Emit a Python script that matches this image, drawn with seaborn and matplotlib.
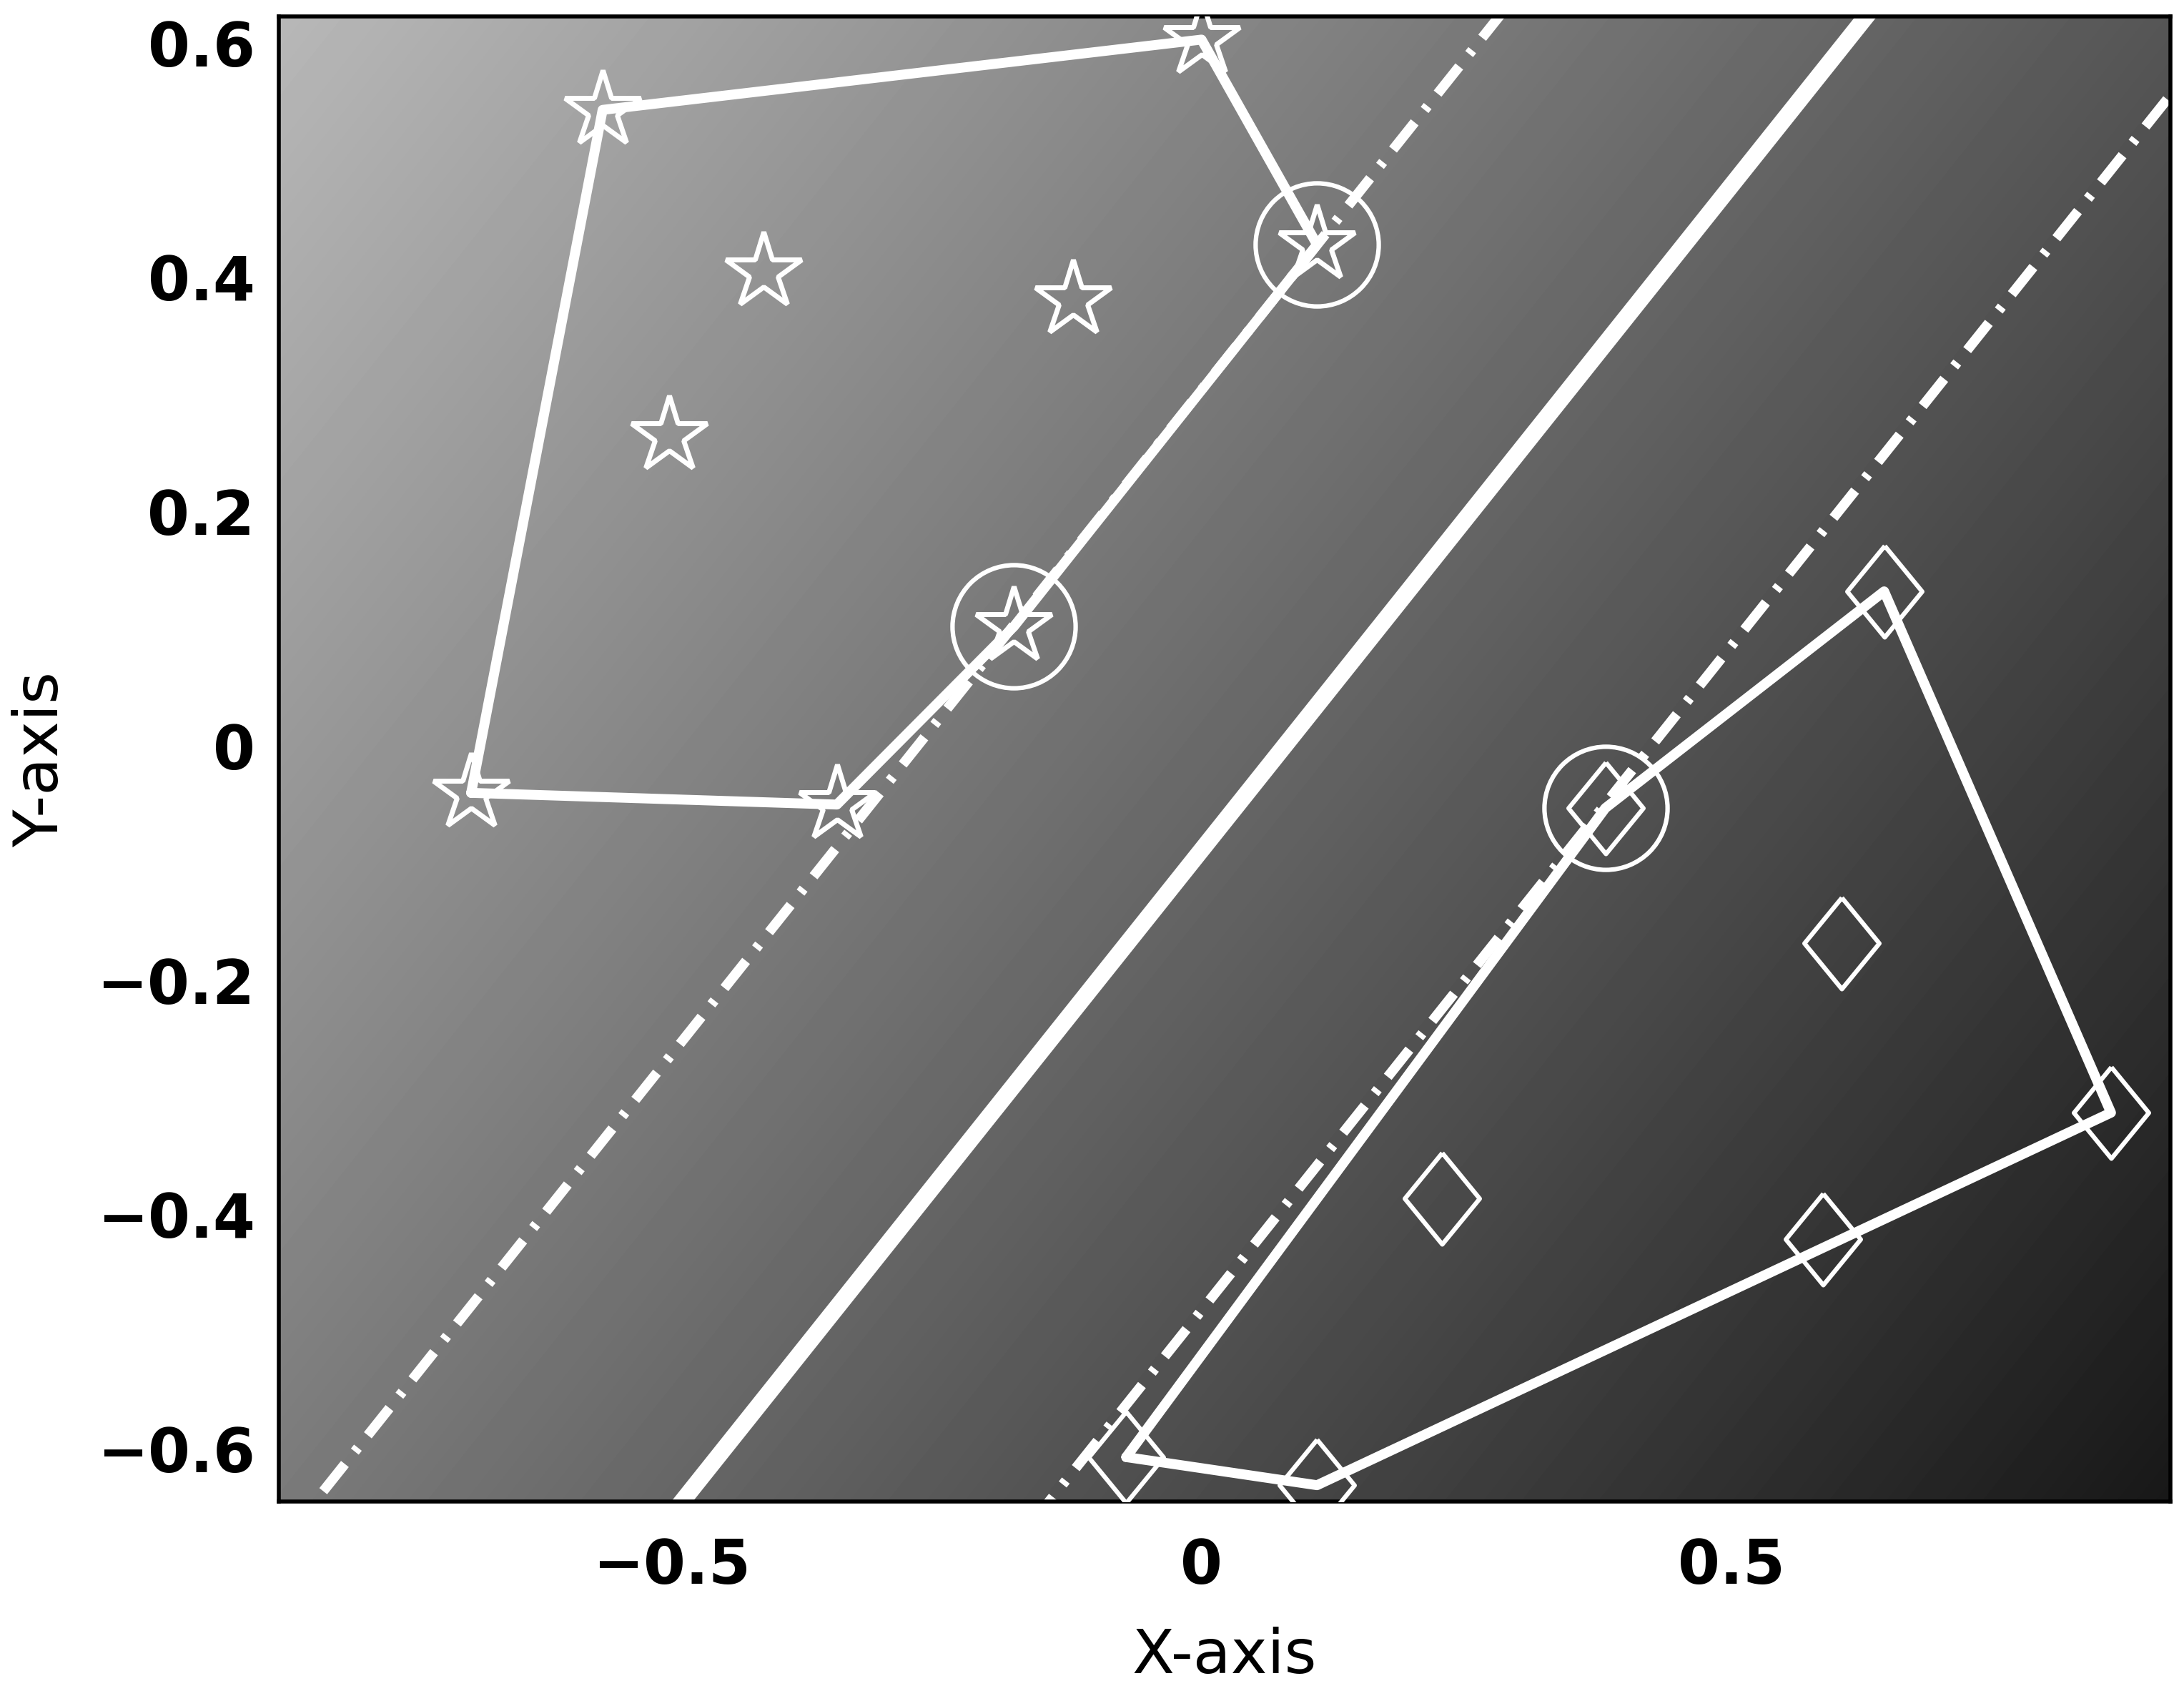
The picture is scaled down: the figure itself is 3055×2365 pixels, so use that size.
import numpy as np
import matplotlib
matplotlib.use("Agg")
import matplotlib.pyplot as plt
from matplotlib.ticker import FuncFormatter
import seaborn as sns

# class A (stars) and class B (diamonds)
star_x = [-0.565, 0.0, 0.109, -0.413, -0.121, -0.502, -0.177, -0.689, -0.344]
star_y = [0.543, 0.603, 0.428, 0.405, 0.381, 0.265, 0.102, -0.040, -0.050]
diamond_x = [0.644, 0.604, 0.381, 0.858, 0.227, 0.586, -0.071, 0.109]
diamond_y = [0.132, -0.168, -0.053, -0.313, -0.386, -0.421, -0.607, -0.631]

# support vectors (circled)
support_x = [0.109, -0.177, 0.381]
support_y = [0.428, 0.102, -0.053]

# linear decision function  w . x + b
weights = [-2.888, 2.545]
bias = 0.226
margin_levels = [-1, 0, 1]

x_ticks = [-0.5, 0, 0.5]
y_ticks = [-0.6, -0.4, -0.2, 0, 0.2, 0.4, 0.6]
x_limits = (-0.8706, 0.9139)
y_limits = (-0.645, 0.6225)


def convexHull(xs, ys):
    pts = sorted(zip(xs, ys))

    def cross(o, a, b):
        return (a[0] - o[0]) * (b[1] - o[1]) - (a[1] - o[1]) * (b[0] - o[0])

    lower = []
    for p in pts:
        while len(lower) >= 2 and cross(lower[-2], lower[-1], p) <= 0:
            lower.pop()
        lower.append(p)
    upper = []
    for p in reversed(pts):
        while len(upper) >= 2 and cross(upper[-2], upper[-1], p) <= 0:
            upper.pop()
        upper.append(p)
    hull = lower[:-1] + upper[:-1]
    hull.append(hull[0])
    return [p[0] for p in hull], [p[1] for p in hull]


def tickFormat(value, pos):
    return f"{value:g}".replace("-", "\u2212")


sns.set_style("white")
plt.rcParams["font.family"] = ["DejaVu Sans"]

fig = plt.figure(figsize=(30.55, 23.65), dpi=100)
ax = fig.add_axes([0.1276, 0.1120, 0.8661, 0.8781])

# shaded background = decision function value
gx, gy = np.meshgrid(np.linspace(*x_limits, 500), np.linspace(*y_limits, 500))
field = weights[0] * gx + weights[1] * gy + bias
ax.imshow(field, extent=[*x_limits, *y_limits], origin="lower", cmap="gray",
          vmin=-5.33, vmax=8.09, aspect="auto", interpolation="bilinear", zorder=0)

# decision boundary and margins
line_x = np.array(x_limits)
for level in margin_levels:
    line_y = (level - bias - weights[0] * line_x) / weights[1]
    if level == 0:
        ax.plot(line_x, line_y, color="white", linewidth=17, solid_capstyle="butt", zorder=2)
    else:
        ax.plot(line_x, line_y, color="white", linewidth=10,
                linestyle=(0, (3.5, 1.6, 0.5, 1.6)), dash_capstyle="butt", zorder=2)

# convex hulls of both classes
hx, hy = convexHull(star_x, star_y)
sns.lineplot(x=hx, y=hy, sort=False, estimator=None, color="white", linewidth=10, ax=ax, zorder=3)
hx, hy = convexHull(diamond_x, diamond_y)
sns.lineplot(x=hx, y=hy, sort=False, estimator=None, color="white", linewidth=10, ax=ax, zorder=3)

diamond_marker = [(0, 1), (0.82, 0), (0, -1), (-0.82, 0), (0, 1)]
ax.plot(star_x, star_y, linestyle="none", marker="*", markersize=80, markerfacecolor="none",
        markeredgecolor="white", markeredgewidth=5, zorder=4)
ax.plot(diamond_x, diamond_y, linestyle="none", marker=diamond_marker, markersize=92,
        markerfacecolor="none", markeredgecolor="white", markeredgewidth=4.5, zorder=4)
ax.plot(support_x, support_y, linestyle="none", marker="o", markersize=124, markerfacecolor="none",
        markeredgecolor="white", markeredgewidth=4.5, zorder=5)

ax.set_xlim(*x_limits)
ax.set_ylim(*y_limits)
ax.set_xticks(x_ticks)
ax.set_yticks(y_ticks)
ax.xaxis.set_major_formatter(FuncFormatter(tickFormat))
ax.yaxis.set_major_formatter(FuncFormatter(tickFormat))
ax.tick_params(axis="both", length=0, labelsize=61, labelcolor="black")
ax.tick_params(axis="x", pad=36)
ax.tick_params(axis="y", pad=24)
for label in ax.get_xticklabels() + ax.get_yticklabels():
    label.set_fontweight("bold")

ax.set_xlabel("X-axis", fontsize=62, labelpad=30, color="black")
ax.set_ylabel("Y-axis", fontsize=62, labelpad=26, color="black")

for spine in ax.spines.values():
    spine.set_visible(True)
    spine.set_color("black")
    spine.set_linewidth(4)

fig.savefig("out.png", dpi=100)
